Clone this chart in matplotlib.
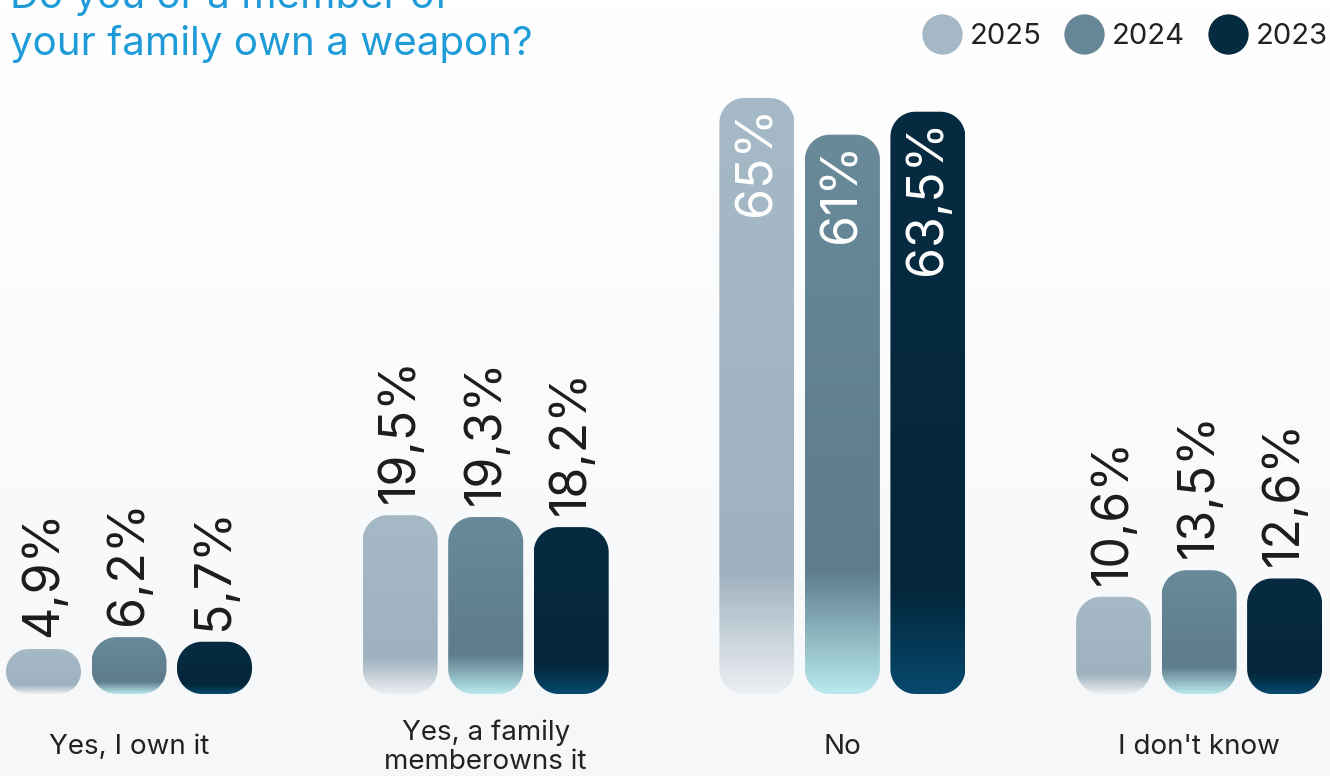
import numpy as np
import matplotlib
matplotlib.use('Agg')
import matplotlib.pyplot as plt
from matplotlib.colors import to_rgb, LinearSegmentedColormap
from matplotlib.patches import PathPatch
from matplotlib.path import Path
from matplotlib.lines import Line2D

# data
categories = ['Yes, I own it', 'Yes, a family\nmemberowns it', 'No', "I don't know"]
years = ['2025', '2024', '2023']
values_2025 = [4.9, 19.5, 65, 10.6]
values_2024 = [6.2, 19.3, 61, 13.5]
values_2023 = [5.7, 18.2, 63.5, 12.6]
series = [values_2025, values_2024, values_2023]

legend_colors = ['#a5b8c6', '#668796', '#052b40']
# vertical gradient stops (fraction from top, colour)
gradients = [
    [(0.0, '#a6b9c7'), (0.8, '#9fb2bf'), (1.0, '#eceff2')],
    [(0.0, '#688a99'), (0.78, '#5d7c8c'), (1.0, '#b8e8ec')],
    [(0.0, '#072c42'), (0.82, '#04263a'), (1.0, '#07496d')],
]

W, H = 1330, 776
DPI = 100
base_px = 694          # pixel row of the baseline
px_per_pct = 9.17      # vertical scale
group_px = 356.7       # distance between groups
first_px = 129.0       # centre of first group
bar_px = 75
step_px = 85.5
radius_px = 25

plt.rcParams['font.family'] = ['Inter', 'DejaVu Sans']

fig = plt.figure(figsize=(W / DPI, H / DPI), dpi=DPI)

# background gradient
bg = fig.add_axes([0, 0, 1, 1], zorder=-1)
bg.axis('off')
grad = np.linspace(0, 1, 256)[:, None, None]
top_c = np.array(to_rgb('#ffffff'))
bot_c = np.array(to_rgb('#f5f7f9'))
bg.imshow(top_c * (1 - grad) + bot_c * grad, aspect='auto', extent=[0, 1, 0, 1])
bg.set_xlim(0, 1)
bg.set_ylim(0, 1)

ax = fig.add_axes([0, (H - base_px) / H, 1, base_px / H])
ax.set_xlim(-first_px / group_px, (W - first_px) / group_px)
ax.set_ylim(0, base_px / px_per_pct)
ax.axis('off')

sx = group_px  # px per x unit
sy = px_per_pct


def rounded_bar(x0, w, h, r_px):
    # rounded rectangle path in data units with corners that look round in pixels
    r_px = min(r_px, w * sx / 2, h * sy / 2)
    rx, ry = r_px / sx, r_px / sy
    pts = []
    th = np.linspace(0, np.pi / 2, 20)
    for cx, cy, a0 in [(x0 + w - rx, ry, -np.pi / 2), (x0 + w - rx, h - ry, 0),
                       (x0 + rx, h - ry, np.pi / 2), (x0 + rx, ry, np.pi)]:
        for t in th:
            pts.append((cx + rx * np.cos(a0 + t), cy + ry * np.sin(a0 + t)))
    pts.append(pts[0])
    return Path(pts, closed=True)


for k, vals in enumerate(series):
    cmap = LinearSegmentedColormap.from_list('g%d' % k, gradients[k])
    col = cmap(np.linspace(0, 1, 300))[:, None, :]
    for i, v in enumerate(vals):
        xc = i + (k - 1) * step_px / sx
        w = bar_px / sx
        x0 = xc - w / 2
        path = rounded_bar(x0, w, v, radius_px)
        patch = PathPatch(path, facecolor='none', edgecolor='none')
        ax.add_patch(patch)
        im = ax.imshow(col, aspect='auto', extent=[x0, x0 + w, 0, v], origin='upper',
                       interpolation='bilinear', zorder=2)
        im.set_clip_path(patch)
        lab = ('%g' % v).replace('.', ',') + '%'
        if v > 40:
            ax.text(xc, v - 8 / sy, lab, rotation=90, ha='center', va='top',
                    color='white', fontsize=36, zorder=3)
        else:
            ax.text(xc, v + 12 / sy, lab, rotation=90, ha='center', va='bottom',
                    color='#1c1c1c', fontsize=36, zorder=3)

# category labels
for i, c in enumerate(categories):
    ax.text(i, -(747 - base_px) / sy, c, ha='center', va='center', fontsize=20,
            color='#222222', linespacing=1.15, clip_on=False)

# title (first line runs off the top, as in the original)
fig.text(10 / W, 1 - 8 / H, 'Do you or a member of', ha='left', va='baseline',
         fontsize=29, color='#1f9bd7')
fig.text(10 / W, 1 - 55 / H, 'your family own a weapon?', ha='left', va='baseline',
         fontsize=29, color='#1f9bd7')

handles = [Line2D([], [], ls='', marker='o', markersize=29, color=c, markeredgewidth=0)
           for c in legend_colors]
fig.legend(handles, years, loc='center right', bbox_to_anchor=(1328 / W, 1 - 37 / H),
           ncol=3, frameon=False, fontsize=21, handlelength=1.4, handletextpad=0.25,
           columnspacing=0.78, borderpad=0, borderaxespad=0, labelcolor='#222222')

fig.savefig('out.png', dpi=DPI)
